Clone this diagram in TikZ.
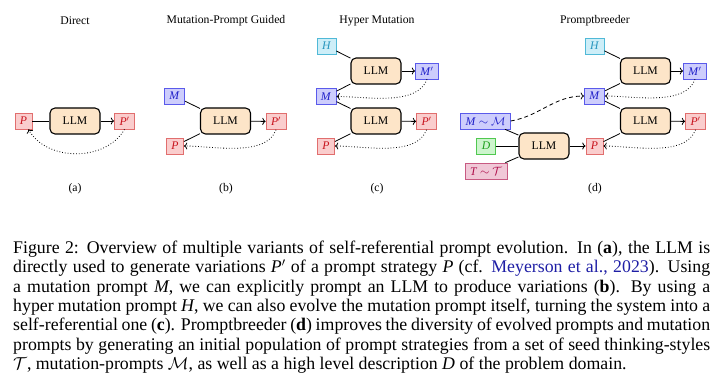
\documentclass[tikz,border=0pt]{standalone}
\usepackage{fontspec}
\setmainfont{Liberation Serif}
\usetikzlibrary{arrows.meta}
\definecolor{llmfill}{RGB}{253,229,200}
\definecolor{pfill}{RGB}{250,205,205}
\definecolor{pdraw}{RGB}{225,110,110}
\definecolor{ptext}{RGB}{200,20,30}
\definecolor{mfill}{RGB}{205,205,252}
\definecolor{mdraw}{RGB}{90,90,235}
\definecolor{mtext}{RGB}{30,30,200}
\definecolor{hfill}{RGB}{205,238,248}
\definecolor{hdraw}{RGB}{80,185,215}
\definecolor{htext}{RGB}{40,150,190}
\definecolor{dfill}{RGB}{205,245,205}
\definecolor{ddraw}{RGB}{80,200,80}
\definecolor{dtext}{RGB}{30,160,30}
\definecolor{tfill}{RGB}{240,200,215}
\definecolor{tdraw}{RGB}{200,90,130}
\definecolor{ttext}{RGB}{175,15,75}
\definecolor{citeblue}{RGB}{30,30,165}
\newcommand{\diagfont}{\fontsize{11.7}{14}\selectfont}
\newcommand{\captfont}{\fontsize{17.8}{19.3}\selectfont}
\newcommand{\capline}[1]{\makebox[697pt][s]{#1}}
\begin{document}
\begin{tikzpicture}[x=1pt,y=-1pt,
  llm/.style={draw, line width=1.1pt, rounded corners=5pt, fill=llmfill,
    minimum width=50pt, minimum height=26pt, inner sep=0pt, font=\diagfont},
  sbox/.style={line width=0.7pt, inner xsep=5pt, inner ysep=0pt,
    minimum height=16pt, font=\diagfont},
  pbox/.style={sbox, draw=pdraw, fill=pfill, text=ptext},
  mbox/.style={sbox, draw=mdraw, fill=mfill, text=mtext},
  hbox/.style={sbox, draw=hdraw, fill=hfill, text=htext},
  dbox/.style={sbox, draw=ddraw, fill=dfill, text=dtext},
  tbox/.style={sbox, draw=tdraw, fill=tfill, text=ttext},
  lbl/.style={font=\diagfont, inner sep=0pt},
  conn/.style={line width=0.8pt},
  arr/.style={line width=0.8pt, ->},
  back/.style={line width=0.8pt, dotted, ->},
  seed/.style={line width=0.8pt, dash pattern=on 4pt off 3pt, ->},
  capt/.style={anchor=base west, inner sep=0pt, font=\captfont}]
\useasboundingbox (0,0) rectangle (720,385);

% titles
\node[lbl] (ta) at (75,21) {Direct};
\node[lbl] (tb) at (226,21) {Mutation-Prompt Guided};
\node[lbl] (tc) at (377,21) {Hyper Mutation};
\node[lbl] (td) at (595,21) {Promptbreeder};
\node[lbl] (sa) at (75,189) {(a)};
\node[lbl] (sb) at (226,189) {(b)};
\node[lbl] (sc) at (377,189) {(c)};
\node[lbl] (sd) at (595,189) {(d)};

% (a)
\node[pbox] (aP) at (23.5,121) {\textit{P}};
\node[llm] (aL) at (75,121) {LLM};
\node[pbox] (aPp) at (124.5,121) {\textit{P}$'$};
\draw[conn] (aP) -- (aL);
\draw[arr] (aL) -- (aPp);
\draw[back] (aPp.south) to[out=-120,in=-60] (aP.-60);

% (b)
\node[mbox] (bM) at (174.5,96) {\textit{M}};
\node[llm] (bL) at (225.5,121) {LLM};
\node[pbox] (bPp) at (276,121.5) {\textit{P}$'$};
\node[pbox] (bP) at (175,146) {\textit{P}};
\draw[conn] (bM) -- (bL);
\draw[conn] (bL) -- (bP);
\draw[arr] (bL) -- (bPp);
\draw[back] (bPp.south) to[out=-110,in=0,looseness=0.8] (bP.east);

% (c)
\node[hbox] (cH) at (326.5,46) {\textit{H}};
\node[llm] (cL1) at (376,71) {LLM};
\node[mbox] (cMp) at (427,71) {\textit{M}$'$};
\node[mbox] (cM) at (326,96.5) {\textit{M}};
\node[llm] (cL2) at (376,121) {LLM};
\node[pbox] (cPp) at (426.5,121.5) {\textit{P}$'$};
\node[pbox] (cP) at (326,146) {\textit{P}};
\draw[conn] (cH) -- (cL1);
\draw[conn] (cL1) -- (cM);
\draw[arr] (cL1) -- (cMp);
\draw[conn] (cM) -- (cL2);
\draw[conn] (cL2) -- (cP);
\draw[arr] (cL2) -- (cPp);
\draw[back] (cMp.south) to[out=-110,in=0,looseness=0.8] (cM.east);
\draw[back] (cPp.south) to[out=-110,in=0,looseness=0.8] (cP.east);

% (d)
\node[hbox] (dH) at (594.5,46) {\textit{H}};
\node[llm] (dL1) at (645.5,71) {LLM};
\node[mbox] (dMp) at (695,71) {\textit{M}$'$};
\node[mbox] (dM) at (594.5,96) {\textit{M}};
\node[llm] (dL2) at (645.5,121) {LLM};
\node[pbox] (dPp) at (695.5,121.5) {\textit{P}$'$};
\node[pbox] (dP) at (594.5,146) {\textit{P}};
\node[llm] (dL0) at (544,146) {LLM};
\node[mbox] (dMM) at (485.5,121) {\textit{M} $\sim$ $\mathcal{M}$};
\node[dbox] (dD) at (486,146) {\textit{D}};
\node[tbox] (dTT) at (486,171) {\textit{T} $\sim$ $\mathcal{T}$};
\draw[conn] (dH) -- (dL1);
\draw[conn] (dL1) -- (dM);
\draw[arr] (dL1) -- (dMp);
\draw[conn] (dM) -- (dL2);
\draw[conn] (dL2) -- (dP);
\draw[arr] (dL2) -- (dPp);
\draw[back] (dMp.south) to[out=-110,in=0,looseness=0.8] (dM.east);
\draw[back] (dPp.south) to[out=-110,in=0,looseness=0.8] (dP.east);
\draw[conn] (dMM) -- (dL0);
\draw[conn] (dD) -- (dL0);
\draw[conn] (dTT) -- (dL0);
\draw[arr] (dL0) -- (dP);
\draw[seed] (dMM.east) to[out=10,in=180] (dM.west);

% caption
\node[capt] (c1) at (13,253.5) {\capline{Figure 2: Overview of multiple variants of self-referential prompt evolution. In (\textbf{a}), the LLM is}};
\node[capt] (c2) at (13,272.8) {\capline{directly used to generate variations \textit{P}$'$ of a prompt strategy \textit{P} (cf. \textcolor{citeblue}{Meyerson et al., 2023}). Using}};
\node[capt] (c3) at (13,292.1) {\capline{a mutation prompt \textit{M}, we can explicitly prompt an LLM to produce variations (\textbf{b}). By using a}};
\node[capt] (c4) at (13,311.4) {\capline{hyper mutation prompt \textit{H}, we can also evolve the mutation prompt itself, turning the system into a}};
\node[capt] (c5) at (13,330.7) {\capline{self-referential one (\textbf{c}). Promptbreeder (\textbf{d}) improves the diversity of evolved prompts and mutation}};
\node[capt] (c6) at (13,350.0) {\capline{prompts by generating an initial population of prompt strategies from a set of seed thinking-styles}};
\node[capt] (c7) at (13,369.3) {$\mathcal{T}$, mutation-prompts $\mathcal{M}$, as well as a high level description \textit{D} of the problem domain.};
\end{tikzpicture}
\end{document}
